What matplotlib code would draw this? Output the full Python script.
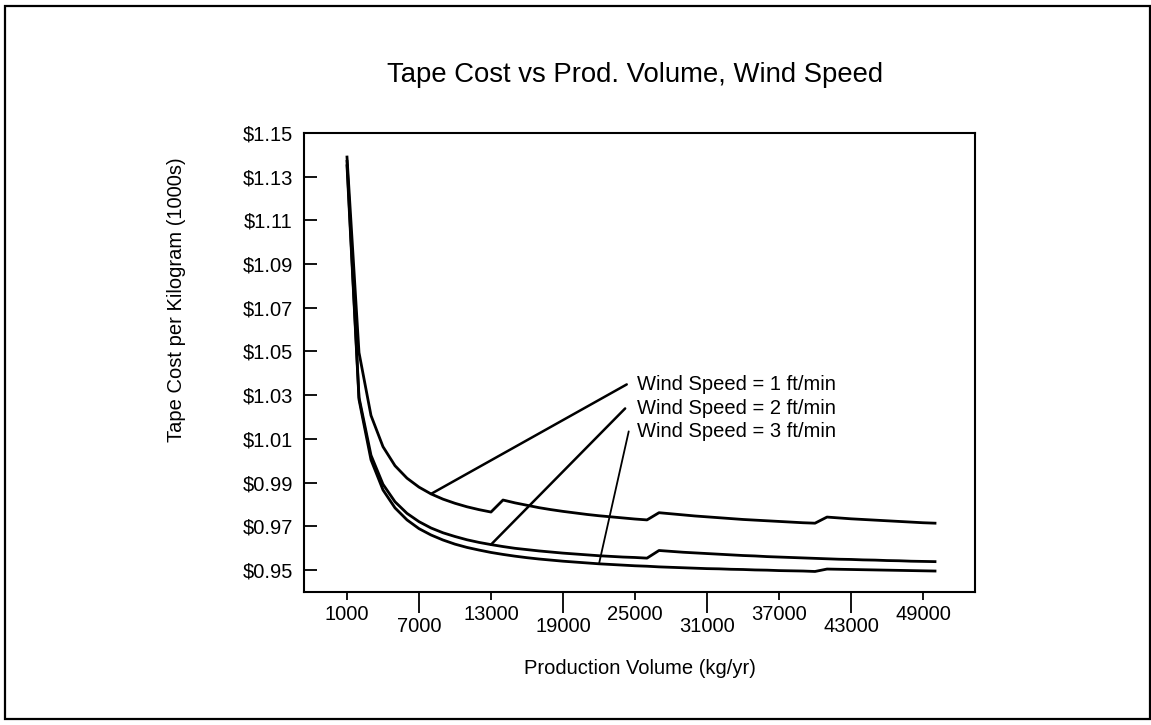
import matplotlib
matplotlib.use('Agg')
import matplotlib.pyplot as plt
from matplotlib.patches import Rectangle

plt.rcParams['font.family'] = ['Liberation Sans', 'DejaVu Sans']

# ---------------- data ----------------
volume_kg_yr = list(range(1000, 50001, 1000))

cost_1ftmin = [1.1390, 1.0495, 1.0207, 1.0064, 0.9977, 0.9920, 0.9879, 0.9848, 0.9824, 0.9805,
               0.9789, 0.9776, 0.9765, 0.9820, 0.9807, 0.9796, 0.9785, 0.9776, 0.9768, 0.9761,
               0.9754, 0.9748, 0.9743, 0.9738, 0.9733, 0.9729, 0.9762, 0.9757, 0.9752, 0.9747,
               0.9743, 0.9739, 0.9735, 0.9731, 0.9728, 0.9725, 0.9722, 0.9719, 0.9716, 0.9714,
               0.9742, 0.9738, 0.9734, 0.9731, 0.9728, 0.9725, 0.9722, 0.9719, 0.9716, 0.9714]

cost_2ftmin = [1.1370, 1.0290, 1.0025, 0.9892, 0.9812, 0.9759, 0.9721, 0.9692, 0.9670, 0.9653,
               0.9638, 0.9626, 0.9616, 0.9607, 0.9599, 0.9593, 0.9587, 0.9582, 0.9577, 0.9573,
               0.9569, 0.9565, 0.9562, 0.9559, 0.9557, 0.9554, 0.9589, 0.9585, 0.9581, 0.9578,
               0.9575, 0.9572, 0.9569, 0.9566, 0.9564, 0.9561, 0.9559, 0.9557, 0.9555, 0.9553,
               0.9551, 0.9549, 0.9548, 0.9546, 0.9545, 0.9543, 0.9542, 0.9540, 0.9539, 0.9538]

cost_3ftmin = [1.1350, 1.0280, 1.0004, 0.9866, 0.9784, 0.9729, 0.9689, 0.9660, 0.9637, 0.9618,
               0.9603, 0.9591, 0.9580, 0.9571, 0.9563, 0.9556, 0.9550, 0.9545, 0.9540, 0.9536,
               0.9532, 0.9528, 0.9525, 0.9522, 0.9519, 0.9517, 0.9514, 0.9512, 0.9510, 0.9508,
               0.9506, 0.9505, 0.9503, 0.9502, 0.9500, 0.9499, 0.9497, 0.9496, 0.9495, 0.9493,
               0.9504, 0.9503, 0.9502, 0.9501, 0.9500, 0.9499, 0.9498, 0.9497, 0.9496, 0.9495]

series_labels = ['Wind Speed = 1 ft/min', 'Wind Speed = 2 ft/min', 'Wind Speed = 3 ft/min']
pointer_volumes = [8000, 13000, 22000]

y_ticks = [0.95, 0.97, 0.99, 1.01, 1.03, 1.05, 1.07, 1.09, 1.11, 1.13, 1.15]
y_tick_labels = ['$0.95', '$0.97', '$0.99', '$1.01', '$1.03', '$1.05',
                 '$1.07', '$1.09', '$1.11', '$1.13', '$1.15']
x_ticks_upper = [1000, 13000, 25000, 37000, 49000]
x_ticks_lower = [7000, 19000, 31000, 43000]

title = 'Tape Cost vs Prod. Volume, Wind Speed'
x_label = 'Production Volume (kg/yr)'
y_label = 'Tape Cost per Kilogram (1000s)'

# ---------------- figure ----------------
W, H = 1151, 725
fig = plt.figure(figsize=(W / 100, H / 100), dpi=100)
fig.patch.set_facecolor('white')

# outer frame
fig.patches.append(Rectangle((5 / W, 1 - 719 / H), (1150 - 5) / W, (719 - 6) / H,
                             transform=fig.transFigure, fill=False,
                             edgecolor='black', linewidth=1.6))

ax_l, ax_r, ax_t, ax_b = 304, 975, 133, 592
ax = fig.add_axes([ax_l / W, 1 - ax_b / H, (ax_r - ax_l) / W, (ax_b - ax_t) / H])

series = [cost_1ftmin, cost_2ftmin, cost_3ftmin]
for s in series:
    ax.plot(volume_kg_yr, s, color='black', linewidth=2.0, solid_joinstyle='round')

ax.set_xlim(-2583, 53333)
ax.set_ylim(0.9399, 1.15)

for sp in ax.spines.values():
    sp.set_linewidth(1.5)

ax.set_yticks(y_ticks)
ax.set_yticklabels(y_tick_labels)
ax.tick_params(axis='y', direction='in', length=9.5, width=1.3, pad=8,
               labelsize=14.5, left=True, right=False)

ax.set_xticks(x_ticks_upper)
ax.set_xticklabels([str(v) for v in x_ticks_upper])
ax.set_xticks(x_ticks_lower, minor=True)
ax.set_xticklabels([str(v) for v in x_ticks_lower], minor=True)
ax.tick_params(axis='x', which='major', direction='out', length=5.8, width=1.3,
               pad=3.2, labelsize=14.5)
ax.tick_params(axis='x', which='minor', direction='out', length=15, width=1.3,
               pad=3.2, labelsize=14.5)

# annotations
text_x = 25140
text_y = [1.0324, 1.0214, 1.0109]
lws = [1.8, 1.8, 1.3]
rel = [(-0.05, 0.5), (-0.058, 0.5), (-0.04, 0.5)]
for lab, s, pv, ty, lw, rp in zip(series_labels, series, pointer_volumes, text_y, lws, rel):
    idx = volume_kg_yr.index(pv)
    ax.annotate(lab, xy=(pv, s[idx]), xytext=(text_x, ty),
                xycoords='data', textcoords='data', ha='left', va='baseline',
                fontsize=14.5,
                arrowprops=dict(arrowstyle='-', color='black', lw=lw,
                                shrinkA=0, shrinkB=0, relpos=rp))

# titles / labels
fig.text(635 / W, 1 - 75 / H, title, ha='center', va='center', fontsize=19.8)
fig.text(639.5 / W, 1 - 668 / H, x_label, ha='center', va='center', fontsize=14.5)
fig.text(176 / W, 1 - 300 / H, y_label, ha='center', va='center', rotation=90, fontsize=14.5)

fig.savefig('out.png', dpi=100, facecolor='white')
